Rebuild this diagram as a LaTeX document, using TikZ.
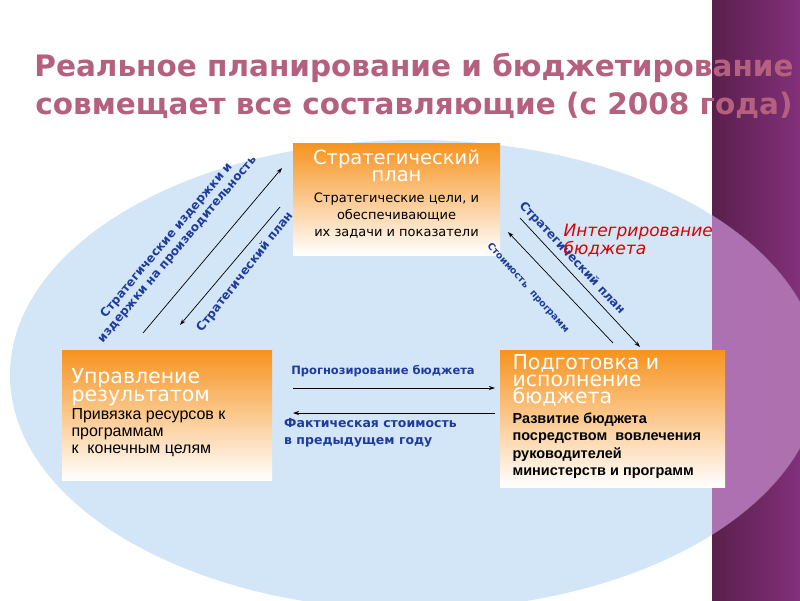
\documentclass[tikz,border=0pt]{standalone}
\usepackage{fontspec}
\setmainfont{DejaVu Sans}
\newfontfamily\arl{Liberation Sans}
\usetikzlibrary{arrows.meta}
\definecolor{ttl}{HTML}{B4607E}
\definecolor{lbl}{HTML}{1F3C9C}
\definecolor{orng}{HTML}{F7931E}
\definecolor{ell}{HTML}{D3E6F8}
\definecolor{pdark}{HTML}{5A1F4C}
\definecolor{pmid}{HTML}{82307A}
\definecolor{plight}{HTML}{9A72B4}
\definecolor{plight2}{HTML}{B070B0}
\tikzset{
 arr/.style={-{Stealth[length=6pt,width=4pt]}, line width=0.7pt},
 lab/.style={text=lbl, font=\bfseries, inner sep=1pt},
}
\begin{document}
\begin{tikzpicture}[x=1pt,y=-1pt]
\useasboundingbox (0,0) rectangle (800,600);
\fill[white] (0,0) rectangle (800,600);
\fill[left color=pdark, right color=pmid] (712,0) rectangle (800,600);
\fill[ell] (415,375) ellipse[x radius=405, y radius=235];
\begin{scope}
\clip (712,0) rectangle (800,600);
\fill[left color=plight, right color=plight2] (415,375) ellipse[x radius=405, y radius=235];
\end{scope}
% title
\node[text=ttl, font=\bfseries\fontsize{29.5}{30}\selectfont] (t1) at (414,68) {Реальное планирование и бюджетирование};
\node[text=ttl, font=\bfseries\fontsize{29.5}{30}\selectfont] (t2) at (414,105) {совмещает все составляющие (с 2008 года)};
% boxes
\path[top color=orng, bottom color=white] (293,143) rectangle (500,255);
\node[text=white, font=\fontsize{19.5}{17}\selectfont, align=center] (spt) at (396.5,166) {Стратегический\\план};
\node[font=\fontsize{13}{17}\selectfont, align=center] (spb) at (396.5,216) {Стратегические цели, и\\обеспечивающие\\их задачи и показатели};
\path[top color=orng, bottom color=white] (62,350) rectangle (272,480);
\node[text=white, font=\fontsize{20.5}{18}\selectfont, align=left, anchor=north west] (lt) at (68,365) {Управление\\результатом};
\node[font=\arl\fontsize{16}{17}\selectfont, align=left, anchor=north west] (lb) at (68,405) {Привязка ресурсов к\\программам\\к~ конечным целям};
\path[top color=orng, bottom color=white] (500,350) rectangle (725,487);
\node[text=white, font=\fontsize{20.5}{17}\selectfont, align=left, anchor=north west] (rt) at (509,351) {Подготовка и\\исполнение\\бюджета};
\node[font=\arl\bfseries\fontsize{14.5}{17.5}\selectfont, align=left, anchor=north west] (rb) at (509,409) {Развитие бюджета\\посредством~ вовлечения\\руководителей\\министерств и программ};
% connector endpoints
\coordinate (a1) at (143,333); \coordinate (a2) at (282,168);
\coordinate (b1) at (280,207); \coordinate (b2) at (180,325);
\coordinate (c1) at (613,343); \coordinate (c2) at (508,232);
\coordinate (d1) at (520,218); \coordinate (d2) at (640,347);
\coordinate (e1) at (293,388); \coordinate (e2) at (495,388);
\coordinate (f1) at (495,413); \coordinate (f2) at (293,413);
\draw[arr] (a1) -- (a2);
\draw[arr] (b1) -- (b2);
\draw[arr] (c1) -- (c2);
\draw[arr] (d1) -- (d2);
\draw[arr] (e1) -- (e2);
\draw[arr] (f1) -- (f2);
% labels
\node[lab, rotate=50, align=center, font=\bfseries\fontsize{12}{14}\selectfont] (la) at (172,245) {Стратегические издержки и\\издержки на производительность};
\node[lab, rotate=52, font=\bfseries\fontsize{12}{14}\selectfont] (lb2) at (245,272) {Стратегический план};
\node[lab, rotate=-47, font=\bfseries\fontsize{12}{14}\selectfont] (lc) at (572,258) {Стратегический план};
\node[lab, rotate=-48, font=\bfseries\fontsize{9.5}{12}\selectfont] (ld) at (528,288) {Стоимость~ программ};
\node[lab, font=\bfseries\fontsize{11.5}{14}\selectfont] (le) at (383,371) {Прогнозирование бюджета};
\node[lab, align=left, anchor=north west, font=\bfseries\fontsize{12.5}{17}\selectfont] (lf) at (283,417) {Фактическая стоимость\\в предыдущем году};
\node[text=red!85!black, align=left, anchor=north west, font=\itshape\fontsize{17}{16}\selectfont] (li) at (560,221) {Интегрирование\\бюджета};
\end{tikzpicture}
\end{document}
